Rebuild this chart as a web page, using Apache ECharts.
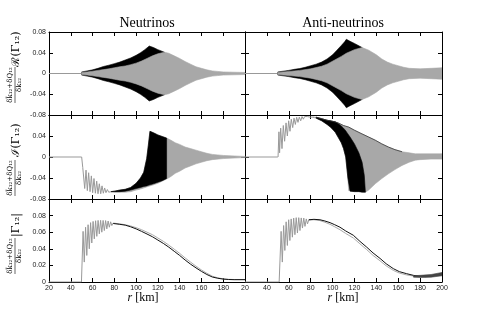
<!DOCTYPE html>
<html><head><meta charset="utf-8">
<script src="https://cdn.jsdelivr.net/npm/echarts@6/dist/echarts.min.js"></script>
<style>html,body{margin:0;padding:0;background:#fff}#c{width:491px;height:314px}</style>
</head><body><div id="c"></div>
<script>
// ---------- data ----------
const xTickValues = [20, 40, 60, 80, 100, 120, 140, 160, 180, 200];
const titles = ['Neutrinos', 'Anti-neutrinos'];

// flat part before the onset (r < 50)
const flatR = [20, 50];
const flatV = [0, 0];

// Panel 1: Neutrinos, Re
const nuReBlackR  = [50, 55, 60, 65, 70, 75, 80, 85, 90, 95, 100, 104, 108, 111, 112, 116, 120, 126];
const nuReBlackHi = [0.003, 0.005, 0.007, 0.010, 0.0135, 0.016, 0.019, 0.022, 0.026, 0.030, 0.035, 0.040, 0.046, 0.051, 0.053, 0.050, 0.046, 0.041];
const nuReBlackLo = [-0.003, -0.005, -0.007, -0.010, -0.0135, -0.016, -0.019, -0.022, -0.026, -0.030, -0.035, -0.040, -0.046, -0.051, -0.053, -0.050, -0.046, -0.041];
const nuReGrayR  = [50, 55, 60, 65, 70, 75, 80, 85, 90, 95, 100, 105, 110, 115, 120, 126, 130, 135, 140, 145, 150, 155, 160, 165, 170, 175, 180, 190, 200];
const nuReGrayHi = [0.002, 0.003, 0.0045, 0.006, 0.0075, 0.009, 0.011, 0.013, 0.0145, 0.017, 0.020, 0.024, 0.029, 0.034, 0.038, 0.041, 0.039, 0.034, 0.029, 0.023, 0.018, 0.013, 0.010, 0.007, 0.005, 0.004, 0.003, 0.0025, 0.002];
const nuReGrayLo = [-0.002, -0.003, -0.0045, -0.006, -0.0075, -0.009, -0.011, -0.013, -0.0145, -0.017, -0.020, -0.024, -0.029, -0.034, -0.038, -0.041, -0.039, -0.034, -0.029, -0.023, -0.018, -0.013, -0.010, -0.007, -0.005, -0.004, -0.003, -0.0025, -0.002];

// Panel 2: Anti-neutrinos, Re
const anReBlackR  = [50, 55, 60, 65, 70, 75, 80, 85, 90, 95, 100, 104, 108, 111, 112.6, 116, 120, 127];
const anReBlackHi = [0.003, 0.0045, 0.006, 0.008, 0.0095, 0.012, 0.015, 0.018, 0.022, 0.028, 0.036, 0.045, 0.054, 0.061, 0.066, 0.062, 0.058, 0.050];
const anReBlackLo = [-0.003, -0.0045, -0.006, -0.008, -0.0095, -0.012, -0.015, -0.018, -0.022, -0.028, -0.036, -0.045, -0.054, -0.061, -0.066, -0.062, -0.058, -0.050];
const anReGrayR  = [50, 60, 70, 80, 90, 95, 102, 108, 112.6, 120, 127, 133, 140, 145, 150, 155, 160, 165, 170, 180, 190, 200];
const anReGrayHi = [0.002, 0.004, 0.006, 0.009, 0.014, 0.018, 0.026, 0.033, 0.039, 0.046, 0.050, 0.045, 0.036, 0.028, 0.022, 0.018, 0.015, 0.012, 0.010, 0.009, 0.010, 0.011];
const anReGrayLo = [-0.002, -0.004, -0.006, -0.009, -0.014, -0.018, -0.026, -0.033, -0.039, -0.046, -0.050, -0.045, -0.036, -0.028, -0.022, -0.018, -0.015, -0.012, -0.010, -0.009, -0.010, -0.011];

// Panel 3: Neutrinos, Im
const nuImZigR = [50, 51.0, 52.8, 54.0, 55.2, 56.4, 57.7, 58.9, 60.1, 61.3, 62.6, 63.8, 65.0, 66.2, 67.5, 68.7, 69.9, 71.1, 72.3, 73.6, 74.8, 76.0, 77.2, 78.5];
const nuImZigV = [0, -0.020, -0.060, -0.025, -0.064, -0.030, -0.066, -0.036, -0.068, -0.041, -0.069, -0.046, -0.070, -0.051, -0.070, -0.055, -0.069, -0.059, -0.068, -0.062, -0.067, -0.064, -0.066, -0.066];
const nuImGrayR  = [77, 80, 85, 90, 95, 100, 104, 107, 109.7, 111.2, 112.7, 116, 120, 124, 128, 132, 136, 140, 145, 150, 155, 160, 165, 170, 180, 190, 200];
const nuImGrayHi = [-0.066, -0.065, -0.063, -0.0615, -0.058, -0.050, -0.040, -0.029, -0.003, 0.022, 0.049, 0.046, 0.042, 0.039, 0.036, 0.032, 0.027, 0.024, 0.019, 0.016, 0.013, 0.010, 0.007, 0.005, 0.003, 0.002, 0.001];
const nuImGrayLo = [-0.066, -0.067, -0.067, -0.067, -0.066, -0.063, -0.061, -0.059, -0.057, -0.056, -0.055, -0.053, -0.050, -0.046, -0.042, -0.037, -0.031, -0.027, -0.021, -0.017, -0.013, -0.010, -0.007, -0.005, -0.003, -0.002, -0.001];
const nuImBlackR  = [77, 80, 85, 90, 95, 100, 104, 107, 109.7, 111.2, 112.7, 116, 120, 124, 128];
const nuImBlackHi = [-0.066, -0.065, -0.063, -0.0615, -0.058, -0.050, -0.040, -0.029, -0.003, 0.022, 0.049, 0.046, 0.042, 0.039, 0.036];
const nuImBlackLo = [-0.066, -0.066, -0.066, -0.065, -0.063, -0.060, -0.058, -0.056, -0.055, -0.054, -0.053, -0.051, -0.048, -0.045, -0.041];

// Panel 4: Anti-neutrinos, Im
const anImZigR = [50.2, 51.0, 51.6, 52.6, 53.8, 55.0, 56.2, 57.5, 58.7, 59.9, 61.1, 62.3, 63.6, 64.8, 66.0, 67.2, 68.4, 69.6, 70.9, 72.1, 73.3, 74.5, 75.7, 77.0, 78.2, 79.4, 80.6, 81.8, 83.0];
const anImZigV = [0, 0.048, 0.008, 0.055, 0.016, 0.060, 0.030, 0.065, 0.040, 0.069, 0.049, 0.072, 0.056, 0.074, 0.062, 0.0756, 0.066, 0.076, 0.069, 0.077, 0.072, 0.077, 0.074, 0.077, 0.0743, 0.076, 0.075, 0.076, 0.0755];
const anImGrayR  = [82, 85, 90, 95, 100, 102.5, 105, 108, 110, 112, 114, 114.7, 120, 126.9, 130, 133, 139, 145, 151, 157, 163.5, 170, 175.6, 180, 190, 200];
const anImGrayHi = [0.0762, 0.0758, 0.073, 0.070, 0.068, 0.067, 0.065, 0.062, 0.060, 0.058, 0.057, 0.057, 0.051, 0.044, 0.041, 0.038, 0.032, 0.025, 0.019, 0.014, 0.010, 0.008, 0.006, 0.006, 0.006, 0.006];
const anImGrayLo = [0.0755, 0.074, 0.069, 0.062, 0.053, 0.047, 0.038, 0.027, 0.016, 0.000, -0.040, -0.064, -0.065, -0.066, -0.067, -0.063, -0.051, -0.041, -0.032, -0.024, -0.016, -0.010, -0.006, -0.005, -0.004, -0.004];
const anImBlackR  = [85, 90, 95, 98, 100, 102.5, 105, 108, 110, 112, 114, 116, 120, 124, 127, 129, 130];
const anImBlackHi = [0.0758, 0.073, 0.070, 0.069, 0.068, 0.067, 0.064, 0.059, 0.055, 0.050, 0.044, 0.038, 0.025, 0.008, -0.010, -0.035, -0.067];
const anImBlackLo = [0.074, 0.069, 0.062, 0.057, 0.053, 0.047, 0.038, 0.027, 0.016, 0.000, -0.040, -0.065, -0.066, -0.066, -0.067, -0.067, -0.067];
const anImEdgeR = [85, 90, 95, 100, 105, 110, 114.7, 120, 126.9, 133, 139, 145, 151, 157, 163.5];
const anImEdgeV = [0.0758, 0.073, 0.070, 0.068, 0.065, 0.060, 0.057, 0.051, 0.044, 0.038, 0.032, 0.025, 0.019, 0.014, 0.010];

// Panel 5: Neutrinos, |Gamma|
const nuAbsZigR = [20, 49.8, 51.3, 52.4, 53.6, 54.7, 55.9, 57.0, 58.2, 59.3, 60.5, 61.6, 62.8, 63.9, 65.1, 66.2, 67.4, 68.5, 69.7, 70.8, 72.0, 73.1, 74.3, 75.4, 76.6, 77.7, 78.9];
const nuAbsZigV = [0, 0, 0.061, 0.024, 0.066, 0.032, 0.069, 0.040, 0.0715, 0.047, 0.073, 0.052, 0.0738, 0.055, 0.0742, 0.058, 0.0743, 0.060, 0.0742, 0.062, 0.074, 0.064, 0.0735, 0.066, 0.0725, 0.068, 0.071];
const nuAbsR     = [79, 85, 90, 95, 100, 105, 110, 115, 120, 125, 130, 135, 140, 145, 150, 155, 160, 165, 170, 175, 180, 185, 190, 200];
const nuAbsBlack = [0.0705, 0.0695, 0.0685, 0.0665, 0.0640, 0.0610, 0.0578, 0.0545, 0.0505, 0.0465, 0.042, 0.037, 0.032, 0.0265, 0.0215, 0.017, 0.0128, 0.009, 0.006, 0.0045, 0.0035, 0.003, 0.0028, 0.0028];
const nuAbsGray  = [0.071, 0.070, 0.069, 0.0675, 0.0655, 0.063, 0.060, 0.057, 0.053, 0.049, 0.0445, 0.0395, 0.0345, 0.029, 0.024, 0.019, 0.0145, 0.0105, 0.007, 0.005, 0.0038, 0.0032, 0.003, 0.003];

// Panel 6: Anti-neutrinos, |Gamma|
const anAbsZigR = [20, 51.2, 53.0, 54.1, 55.3, 56.4, 57.6, 58.7, 59.9, 61.0, 62.2, 63.3, 64.5, 65.6, 66.8, 67.9, 69.1, 70.2, 71.4, 72.5, 73.7, 74.8, 76.0, 77.1, 78.3];
const anAbsZigV = [0, 0, 0.061, 0.024, 0.068, 0.038, 0.0725, 0.044, 0.075, 0.050, 0.076, 0.054, 0.077, 0.057, 0.0775, 0.059, 0.0775, 0.062, 0.0772, 0.065, 0.077, 0.067, 0.076, 0.070, 0.075];
const anAbsR     = [78.3, 83, 88.5, 93, 97.7, 102, 106.8, 112, 119, 125, 131.2, 137, 143.4, 149, 155.5, 161, 167.7, 174, 179.9, 185, 190, 195, 200];
const anAbsBlack = [0.075, 0.0755, 0.075, 0.0735, 0.0715, 0.069, 0.066, 0.0615, 0.0563, 0.049, 0.042, 0.035, 0.0284, 0.022, 0.0161, 0.0125, 0.010, 0.008, 0.0069, 0.0065, 0.007, 0.0085, 0.010];
const anAbsGray  = [0.0745, 0.075, 0.074, 0.072, 0.0695, 0.0665, 0.063, 0.0585, 0.053, 0.046, 0.039, 0.032, 0.0255, 0.0195, 0.014, 0.0108, 0.0085, 0.0072, 0.0065, 0.0062, 0.0068, 0.0082, 0.0095];
const anAbsTailR  = [174, 180, 190, 200];
const anAbsTailHi = [0.0075, 0.008, 0.009, 0.0115];
const anAbsTailLo = [0.0058, 0.0055, 0.0058, 0.0075];

// ---------- layout ----------
const GRAY = '#a8a8a8';
const panels = [
  {left: 49,  top: 32,  width: 196, height: 83, ymin: -0.08, ymax: 0.08, yint: 0.04, ylab: true,  xlab: false, hideMaxY: false},
  {left: 245, top: 32,  width: 197, height: 83, ymin: -0.08, ymax: 0.08, yint: 0.04, ylab: false, xlab: false},
  {left: 49,  top: 115, width: 196, height: 84, ymin: -0.08, ymax: 0.08, yint: 0.04, ylab: true,  xlab: false, hideMaxY: true},
  {left: 245, top: 115, width: 197, height: 84, ymin: -0.08, ymax: 0.08, yint: 0.04, ylab: false, xlab: false},
  {left: 49,  top: 199, width: 196, height: 83, ymin: 0,     ymax: 0.1,  yint: 0.02, ylab: true,  xlab: true, hideMaxY: true, hideMaxX: true},
  {left: 245, top: 199, width: 197, height: 83, ymin: 0,     ymax: 0.1,  yint: 0.02, ylab: false, xlab: true}
];

const grid = [], xAxis = [], yAxis = [];
const fmt = v => (Math.abs(v) < 1e-9 ? '0' : String(parseFloat(v.toFixed(3))));
panels.forEach((p, g) => {
  grid.push({left: p.left, top: p.top, width: p.width, height: p.height, containLabel: false});
  const tick = {show: true, inside: true, length: 4, lineStyle: {color: '#000', width: 1}};
  const line = {show: true, onZero: false, lineStyle: {color: '#000', width: 1}};
  ['bottom', 'top'].forEach((pos, k) => {
    xAxis.push({gridIndex: g, type: 'value', position: pos, min: xTickValues[0], max: xTickValues[xTickValues.length - 1], interval: 20,
      axisLine: line, axisTick: tick, splitLine: {show: false},
      axisLabel: {show: p.xlab && k === 0, fontSize: 7, color: '#222', margin: 3, fontFamily: 'Liberation Sans', showMaxLabel: !p.hideMaxX}});
  });
  ['left', 'right'].forEach((pos, k) => {
    yAxis.push({gridIndex: g, type: 'value', position: pos, min: p.ymin, max: p.ymax, interval: p.yint,
      axisLine: line, axisTick: tick, splitLine: {show: false},
      axisLabel: {show: p.ylab && k === 0, fontSize: 7, color: '#222', margin: 3, fontFamily: 'Liberation Sans', formatter: fmt, showMaxLabel: !p.hideMaxY}});
  });
});

function band(g, r, lo, hi, color, z) {
  return {type: 'custom', xAxisIndex: 2 * g, yAxisIndex: 2 * g, data: [[r[0], lo[0]]], silent: true, clip: true, z: z,
    renderItem: (params, api) => {
      const pts = [];
      for (let i = 0; i < r.length; i++) pts.push(api.coord([r[i], hi[i]]));
      for (let i = r.length - 1; i >= 0; i--) pts.push(api.coord([r[i], lo[i]]));
      return {type: 'polygon', shape: {points: pts}, style: {fill: color, stroke: color, lineWidth: 0.6}};
    }};
}
function curve(g, r, v, color, w, z) {
  return {type: 'line', xAxisIndex: 2 * g, yAxisIndex: 2 * g, data: r.map((x, i) => [x, v[i]]), symbol: 'none', showSymbol: false,
    silent: true, z: z, lineStyle: {color: color, width: w}};
}

const series = [
  curve(0, flatR, flatV, '#999', 1, 1),
  band(0, nuReBlackR, nuReBlackLo, nuReBlackHi, '#000', 2),
  band(0, nuReGrayR, nuReGrayLo, nuReGrayHi, GRAY, 3),
  curve(1, flatR, flatV, '#999', 1, 1),
  band(1, anReBlackR, anReBlackLo, anReBlackHi, '#000', 2),
  band(1, anReGrayR, anReGrayLo, anReGrayHi, GRAY, 3),
  curve(2, flatR, flatV, '#999', 1, 1),
  curve(2, nuImZigR, nuImZigV, '#999', 1, 2),
  band(2, nuImGrayR, nuImGrayLo, nuImGrayHi, GRAY, 3),
  band(2, nuImBlackR, nuImBlackLo, nuImBlackHi, '#000', 4),
  curve(3, flatR, flatV, '#999', 1, 1),
  curve(3, anImZigR, anImZigV, '#999', 1, 2),
  band(3, anImGrayR, anImGrayLo, anImGrayHi, GRAY, 3),
  band(3, anImBlackR, anImBlackLo, anImBlackHi, '#000', 4),
  curve(3, anImEdgeR, anImEdgeV, '#333', 0.8, 5),
  curve(4, nuAbsZigR, nuAbsZigV, '#999', 1, 2),
  curve(4, nuAbsR, nuAbsGray, '#aaa', 1, 3),
  curve(4, nuAbsR, nuAbsBlack, '#111', 1, 4),
  curve(5, anAbsZigR, anAbsZigV, '#999', 1, 2),
  curve(5, anAbsR, anAbsGray, '#aaa', 1, 3),
  curve(5, anAbsR, anAbsBlack, '#111', 1, 4),
  band(5, anAbsTailR, anAbsTailLo, anAbsTailHi, '#444', 5)
];

function yLabel(cy, fracOff, tailOff, tail) {
  const f7 = '7px "DejaVu Serif"';
  return {type: 'group', x: 15, y: cy, rotation: Math.PI / 2, children: [
    {type: 'text', x: fracOff, y: -4.5, style: {text: 'δk̄₁₂+δQ₁₂', font: f7, fill: '#000', align: 'center', verticalAlign: 'middle'}},
    {type: 'line', shape: {x1: fracOff - 18, y1: 0, x2: fracOff + 18, y2: 0}, style: {stroke: '#000', lineWidth: 0.6}},
    {type: 'text', x: fracOff, y: 4.5, style: {text: 'δk₁₂', font: f7, fill: '#000', align: 'center', verticalAlign: 'middle'}},
    {type: 'text', x: tailOff, y: 1, style: {text: tail, font: '11px "DejaVu Serif"', fill: '#000', align: 'center', verticalAlign: 'middle'}}
  ]};
}
function xName(cx) {
  return {type: 'text', x: cx, y: 298, style: {text: '{i|r} [km]', font: '12px "Liberation Serif"', fill: '#000', align: 'center', verticalAlign: 'middle',
    rich: {i: {fontStyle: 'italic', font: 'italic 12px "Liberation Serif"'}}}};
}

const graphic = [
  {type: 'text', x: 147, y: 23, style: {text: titles[0], font: '14px "Liberation Serif"', fill: '#000', align: 'center', verticalAlign: 'middle'}},
  {type: 'text', x: 343, y: 23, style: {text: titles[1], font: '14px "Liberation Serif"', fill: '#000', align: 'center', verticalAlign: 'middle'}},
  yLabel(68, -17, 19, 'ℛ(Γ₁₂)'),
  yLabel(158, -20, 18, 'ℐ(Γ₁₂)'),
  yLabel(245, -11, 20, '|Γ₁₂|'),
  xName(143),
  xName(343)
];

const chart = echarts.init(document.getElementById('c'), null, {renderer: 'canvas'});
chart.setOption({animation: false, backgroundColor: '#fff', grid, xAxis, yAxis, series, graphic});
</script></body></html>
